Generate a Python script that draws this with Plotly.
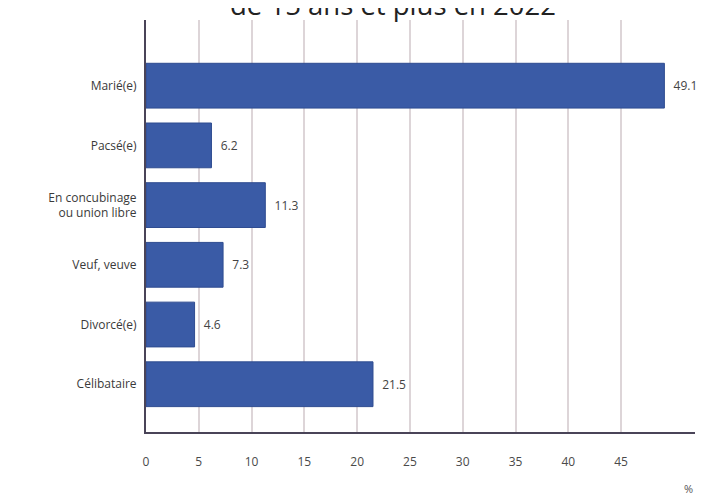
import plotly.graph_objects as go

categories = ["Marié(e)", "Pacsé(e)", "En concubinage<br>ou union libre", "Veuf, veuve", "Divorcé(e)", "Célibataire"]
values = [49.1, 6.2, 11.3, 7.3, 4.6, 21.5]
value_labels = ["49.1", "6.2", "11.3", "7.3", "4.6", "21.5"]
x_ticks = [0, 5, 10, 15, 20, 25, 30, 35, 40, 45]
title_text = "de 15 ans et plus en 2022"
unit_text = "%"

L, R, T, B = 138, 18, 12, 71
W, H = 705, 495
plot_w = W - L - R
plot_h = H - T - B

fig = go.Figure()
fig.add_trace(go.Bar(
    y=list(range(len(categories))),
    x=values,
    orientation="h",
    width=0.75,
    marker=dict(color="#3a5ba6", line=dict(color="#2f4c90", width=1)),
    text=value_labels,
    texttemplate="  %{text}",
    textposition="outside",
    textfont=dict(family="Open Sans", size=12, color="#444444"),
    cliponaxis=False,
    hoverinfo="skip",
))

fig.update_layout(
    width=W, height=H,
    margin=dict(l=L, r=R, t=T, b=B),
    paper_bgcolor="white", plot_bgcolor="white",
    showlegend=False,
    font=dict(family="Open Sans", color="#444444"),
    xaxis=dict(
        range=[0, 52], tickvals=x_ticks, ticktext=[str(v) for v in x_ticks],
        showgrid=True, gridcolor="#ddd5d8", gridwidth=1.5,
        showline=True, linecolor="#4a4458", linewidth=2,
        zeroline=False, ticks="", ticklabelstandoff=18,
        tickfont=dict(family="Open Sans", size=12, color="#4a4a4a"),
    ),
    yaxis=dict(
        range=[5.8, -1.1], tickvals=list(range(len(categories))), ticktext=categories,
        showgrid=False, showline=True, linecolor="#4a4458", linewidth=2,
        zeroline=False, ticks="", ticklabelstandoff=5,
        tickfont=dict(family="Open Sans", size=12, color="#3a3a3a"),
    ),
    annotations=[
        dict(text=title_text, x=(384.5 - L) / plot_w, xref="paper",
             y=(T + plot_h + 3) / plot_h, yref="paper",
             xanchor="center", yanchor="middle", showarrow=False,
             font=dict(family="Open Sans", size=27.5, color="#222222")),
        dict(text=unit_text, x=1.0, xref="paper", y=-0.136, yref="paper",
             xanchor="right", yanchor="middle", showarrow=False,
             font=dict(family="Open Sans", size=11, color="#555555")),
    ],
)

fig.write_html("out.html")
